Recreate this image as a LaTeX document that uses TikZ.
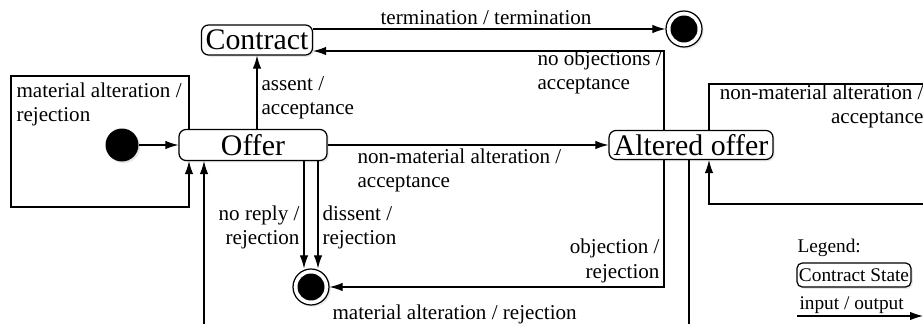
\documentclass[tikz,border=0pt]{standalone}
\usepackage{fontspec}
\setmainfont{Liberation Serif}
\usetikzlibrary{arrows.meta,shadows}
\tikzset{
  state/.style={draw,line width=0.7pt,rounded corners=4pt,fill=white,inner sep=0pt,
    font=\fontsize{17}{20}\selectfont,
    drop shadow={opacity=0.18,shadow xshift=1pt,shadow yshift=-1pt}},
  legstate/.style={state,rounded corners=3pt,font=\fontsize{11}{13}\selectfont,
    minimum width=2.28cm,minimum height=0.48cm},
  ini/.style={circle,fill=black,inner sep=0pt,minimum size=0.66cm,
    drop shadow={opacity=0.18,shadow xshift=1pt,shadow yshift=-1pt}},
  fin/.style={circle,draw,line width=0.7pt,fill=white,inner sep=0pt,minimum size=0.72cm,
    drop shadow={opacity=0.18,shadow xshift=1pt,shadow yshift=-1pt}},
  dot/.style={circle,fill=black,inner sep=0pt,minimum size=0.54cm},
  lbl/.style={inner sep=0pt,font=\fontsize{12}{14.2}\selectfont},
  leg/.style={inner sep=0pt,font=\fontsize{11}{13}\selectfont}
}
\begin{document}
\begin{tikzpicture}[x=0.02cm,y=-0.02cm,line width=0.6pt,>={Latex[length=7.4pt,width=4.8pt]}]
    \useasboundingbox(0,0)rectangle(923,324);
    \clip(0,0)rectangle(923,324);
    \coordinate(L0)at(189,76);
    \coordinate(L1)at(11,76);
    \coordinate(L2)at(11,207);
    \coordinate(L3)at(189,207);
    \coordinate(M0)at(664,51);
    \coordinate(M1)at(664,287);
    \coordinate(N0)at(689,340);
    \coordinate(N1)at(204,340);
    \coordinate(R0)at(709,84);
    \coordinate(R1)at(960,84);
    \coordinate(R2)at(960,204);
    \coordinate(R3)at(709,204);
    \coordinate(D0)at(304,0);
    \coordinate(D1)at(318,0);
    \coordinate(E0)at(797,316);
    \coordinate(E1)at(923,316);
    \node(Con)[state,minimum width=2.22cm,minimum height=0.6cm]at(257,40){Contract};
    \node(Off)[state,minimum width=2.96cm,minimum height=0.62cm]at(253,145){Offer};
    \node(Alt)[state,minimum width=3.28cm,minimum height=0.58cm]at(691,145){Altered offer};
    \node(Ini)[ini]at(122,145){};
    \node(Fin0)[fin]at(684,29){};
    \node(Fin1)[fin]at(311,287){};
    \node(Dot0)[dot]at(Fin0){};
    \node(Dot1)[dot]at(Fin1){};
    \draw[->](Ini)--(Off);
    \draw[->](Off.north-|Con.south)--(Con.south);
    \draw[->](Con.east|-Fin0)--(Fin0);
    \draw[->](Alt.north-|M0)--(M0)--(Con.east|-M0);
    \draw[->](Off.east)--(Alt.west);
    \draw[->](Off.south-|D0)--(D0|-Fin1.north);
    \draw[->](Off.south-|D1)--(D1|-Fin1.north);
    \draw[->](Alt.south-|M1)--(M1)--(Fin1);
    \draw[->](Alt.south-|N0)--(N0)--(N1)--(Off.south-|N1);
    \draw[->](Off.north-|L0)--(L0)--(L1)--(L2)--(L3)--(Off.south-|L3);
    \draw[->](Alt.north-|R0)--(R0)--(R1)--(R2)--(R3)--(Alt.south-|R3);
    \node(T0)[lbl,anchor=base west,align=left]at(16,122){material alteration /\\rejection};
    \node(T1)[lbl,anchor=base west,align=left]at(261,115){assent /\\acceptance};
    \node(T2)[lbl,anchor=base]at(486,25){termination / termination};
    \node(T3)[lbl,anchor=base west,align=left]at(537,90){no objections /\\acceptance};
    \node(T4)[lbl,anchor=base west,align=left]at(357,188){non-material alteration /\\acceptance};
    \node(T5)[lbl,anchor=base east,align=right]at(300,245){no reply /\\rejection};
    \node(T6)[lbl,anchor=base west,align=left]at(322,245){dissent /\\rejection};
    \node(T7)[lbl,anchor=base east,align=right]at(660,278){objection /\\rejection};
    \node(T8)[lbl,anchor=base west]at(332,319){material alteration / rejection};
    \node(T9)[lbl,anchor=base east,align=right]at(924,124){non-material alteration /\\acceptance};
    \node(Leg)[leg,anchor=base west]at(797,253){Legend:};
    \node(Sta)[legstate]at(854,275){Contract State};
    \node(Io)[leg,anchor=base west]at(799,310){input / output};
    \draw[->](E0)--(E1);
\end{tikzpicture}
\end{document}
